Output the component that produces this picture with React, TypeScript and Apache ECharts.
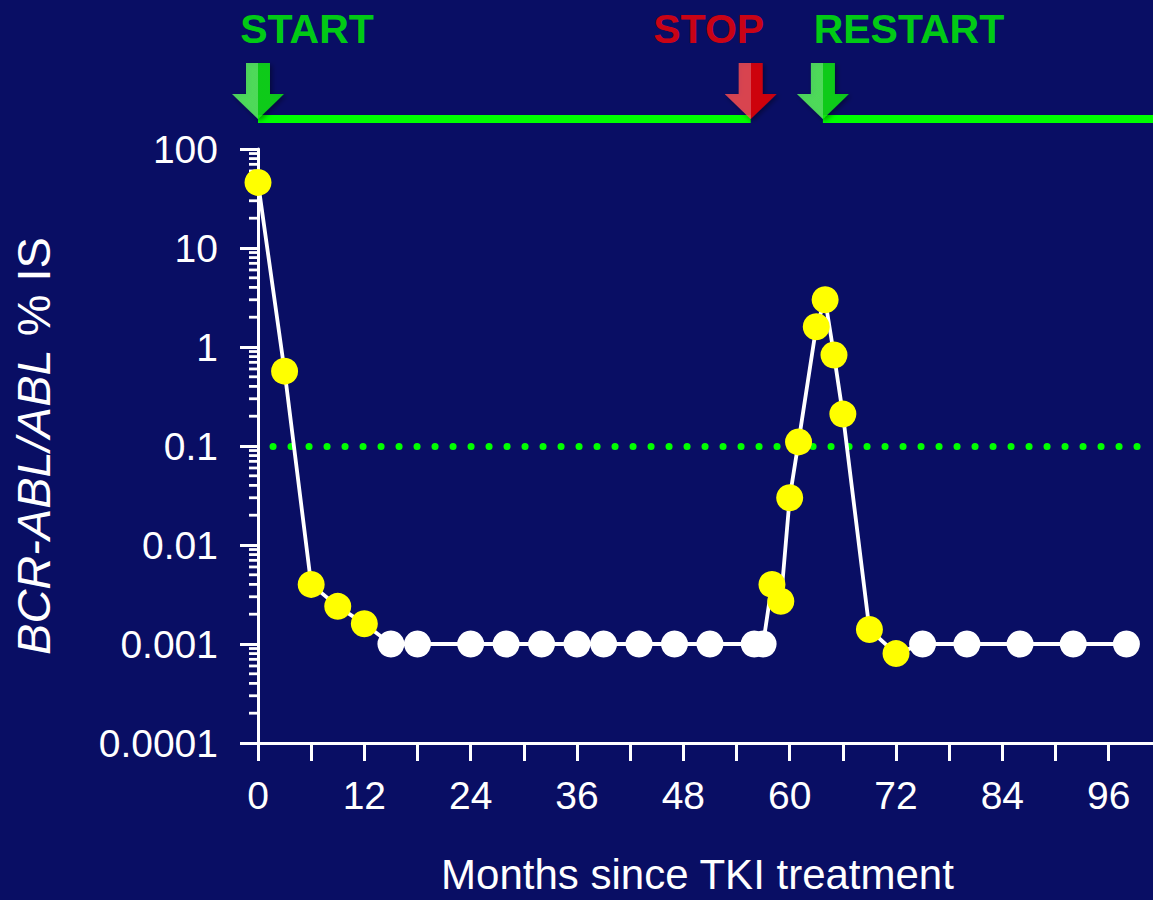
import React, { useEffect, useRef } from "react";
import * as echarts from "echarts";

// ---- data ----
const months = [0, 3, 6, 9, 12, 15, 18, 24, 28, 32, 36, 39, 43, 47, 51, 56, 57, 58, 59, 60, 61, 63, 64, 65, 66, 69, 72, 75, 80, 86, 92, 98];
const values = [46, 0.57, 0.004, 0.0024, 0.0016, 0.001, 0.001, 0.001, 0.001, 0.001, 0.001, 0.001, 0.001, 0.001, 0.001, 0.001, 0.001, 0.004, 0.0027, 0.03, 0.11, 1.6, 3.0, 0.83, 0.21, 0.0014, 0.0008, 0.001, 0.001, 0.001, 0.001, 0.001];
const detected = [true, true, true, true, true, false, false, false, false, false, false, false, false, false, false, false, false, true, true, true, true, true, true, true, true, true, true, false, false, false, false, false];
const yTickLabels = ["0.0001", "0.001", "0.01", "0.1", "1", "10", "100"];
const thresholdValue = 0.1;
const eventMonths = [0, 55.6, 63.75];
const eventLabels = ["START", "STOP", "RESTART"];
const eventKinds = ["on", "off", "on"];
const treatmentStarts = [0, 63.75];
const treatmentEnds = [55.6, 101];
const xLabelEvery = 12;

// ---- styling ----
const FONT = '"Liberation Sans", Arial, Helvetica, sans-serif';
const BG = "#090e64";
const WHITE = "#ffffff";
const YELLOW = "#ffff00";
const GREEN = "#00ff00";
const RED = "#ff0000";
const eventLabelOffset: Record<string, number[]> = {
  START: [49, -14],
  STOP: [-42, -14],
  RESTART: [86, -14],
};
const arrowPath = "path://M14,0 L38,0 L38,31 L52,31 L26,56 L0,31 L14,31 Z";

function arrowFill(kind: string) {
  const light = kind === "on" ? "#5cff5c" : "#ff5050";
  const dark = kind === "on" ? "#10ee10" : "#f20000";
  return {
    type: "linear",
    x: 0,
    y: 0,
    x2: 1,
    y2: 0,
    colorStops: [
      { offset: 0, color: light },
      { offset: 0.5, color: light },
      { offset: 0.5, color: dark },
      { offset: 1, color: dark },
    ],
  };
}

export default function App() {
  const ref = useRef<HTMLDivElement>(null);

  useEffect(() => {
    const chart = echarts.init(ref.current!, null, { renderer: "svg" });

    const minorTicks: number[][] = [];
    for (let e = -4; e < 2; e++) {
      for (let k = 2; k <= 9; k++) minorTicks.push([0, k * Math.pow(10, e)]);
    }

    const points = months.map((m, i) => ({
      value: [m, values[i]],
      itemStyle: { color: detected[i] ? YELLOW : WHITE },
    }));

    const treatmentSeries = treatmentStarts.map((s, i) => ({
      type: "line",
      xAxisIndex: 1,
      yAxisIndex: 1,
      data: [
        [s, 0],
        [treatmentEnds[i], 0],
      ],
      symbol: "none",
      clip: false,
      silent: true,
      lineStyle: { color: GREEN, width: 8 },
      z: 3,
    }));

    const eventData = eventMonths.map((m, i) => ({
      value: [m, 0],
      name: eventLabels[i],
      itemStyle: {
        color: arrowFill(eventKinds[i]),
        shadowBlur: 5,
        shadowColor: "rgba(0,0,0,0.5)",
        shadowOffsetX: 2,
        shadowOffsetY: 2,
      },
      label: {
        show: true,
        position: "top",
        distance: 0,
        offset: eventLabelOffset[eventLabels[i]],
        formatter: "{b}",
        color: eventKinds[i] === "on" ? GREEN : RED,
        fontSize: 41,
        fontWeight: "bold",
        fontFamily: FONT,
      },
    }));

    const option: any = {
      animation: false,
      backgroundColor: BG,
      grid: [
        { left: 258, right: 0, top: 149, height: 600, containLabel: false },
        { left: 258, right: 0, top: 19, height: 100, containLabel: false },
      ],
      xAxis: [
        {
          type: "value",
          gridIndex: 0,
          min: 0,
          max: 101,
          interval: 6,
          axisLine: { show: true, onZero: false, lineStyle: { color: WHITE, width: 3 } },
          axisTick: { show: true, length: 18, lineStyle: { color: WHITE, width: 3 } },
          axisLabel: {
            color: WHITE,
            fontSize: 39,
            fontFamily: FONT,
            margin: 33,
            showMaxLabel: false,
            formatter: (v: number) => (v % xLabelEvery === 0 ? String(v) : ""),
          },
          splitLine: { show: false },
          name: "Months since TKI treatment",
          nameLocation: "middle",
          nameGap: 110,
          nameTextStyle: { color: WHITE, fontSize: 42, fontFamily: FONT, padding: [0, 16, 0, 0] },
        },
        { type: "value", gridIndex: 1, min: 0, max: 101, show: false },
      ],
      yAxis: [
        {
          type: "log",
          logBase: 10,
          gridIndex: 0,
          min: 0.0001,
          max: 100,
          axisLine: { show: true, onZero: false, lineStyle: { color: WHITE, width: 3 } },
          axisTick: { show: true, length: 18, lineStyle: { color: WHITE, width: 3 } },
          axisLabel: {
            color: WHITE,
            fontSize: 39,
            fontFamily: FONT,
            margin: 40,
            formatter: (v: number) => yTickLabels[Math.round(Math.log10(v)) + 4] ?? "",
          },
          splitLine: { show: false },
          minorTick: { show: false },
          name: "{i|BCR-ABL/ABL}{n| % IS}",
          nameLocation: "middle",
          nameRotate: 90,
          nameGap: 201,
          nameTextStyle: {
            color: WHITE,
            fontSize: 47,
            fontFamily: FONT,
            rich: {
              i: { color: WHITE, fontSize: 47, fontFamily: FONT, fontStyle: "italic" },
              n: { color: WHITE, fontSize: 47, fontFamily: FONT },
            },
          },
        },
        { type: "value", gridIndex: 1, min: 0, max: 1, show: false },
      ],
      series: [
        {
          type: "custom",
          xAxisIndex: 0,
          yAxisIndex: 0,
          silent: true,
          data: minorTicks,
          renderItem: (_params: any, api: any) => {
            const p = api.coord([api.value(0), api.value(1)]);
            return {
              type: "line",
              shape: { x1: p[0] - 9, y1: p[1], x2: p[0], y2: p[1] },
              style: { stroke: WHITE, lineWidth: 2.8 },
            };
          },
          z: 1,
        },
        {
          type: "line",
          xAxisIndex: 0,
          yAxisIndex: 0,
          data: points,
          symbol: "circle",
          symbolSize: 27,
          clip: false,
          lineStyle: { color: WHITE, width: 3.8 },
          z: 3,
          markLine: {
            silent: true,
            symbol: "none",
            z: 1,
            label: { show: false },
            lineStyle: { color: GREEN, width: 7, type: [0.1, 17.9], cap: "round", dashOffset: -15 },
            data: [{ yAxis: thresholdValue }],
          },
        },
        ...treatmentSeries,
        {
          type: "scatter",
          xAxisIndex: 1,
          yAxisIndex: 1,
          data: eventData,
          symbol: arrowPath,
          symbolSize: [52, 56],
          symbolOffset: [0, -28],
          clip: false,
          silent: true,
          z: 4,
        },
      ],
    };

    chart.setOption(option);
    return () => chart.dispose();
  }, []);

  return (
    <div
      ref={ref}
      style={{ position: "fixed", left: 0, top: 0, width: 1153, height: 900, background: BG }}
    />
  );
}
